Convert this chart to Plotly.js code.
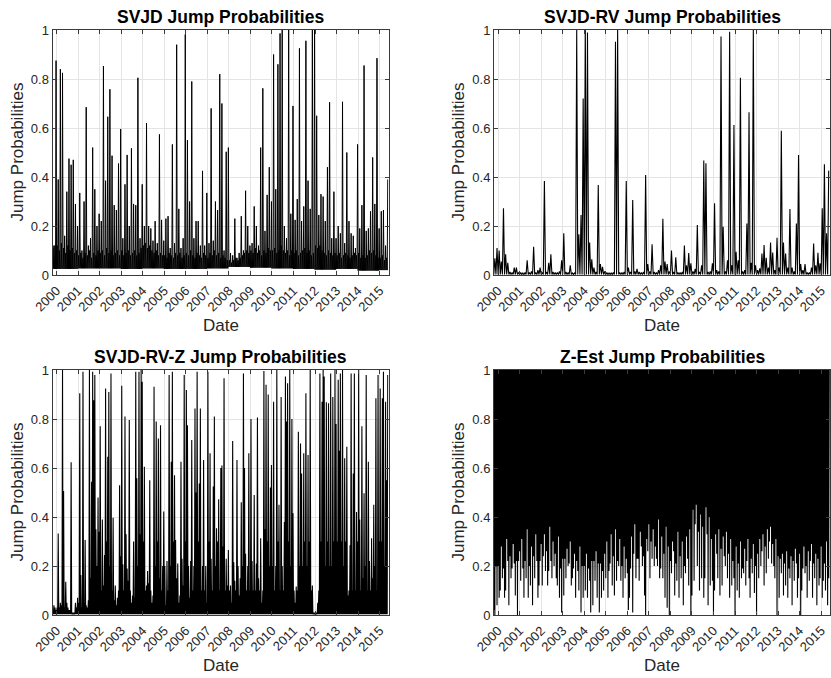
<!DOCTYPE html>
<html>
<head>
<meta charset="utf-8">
<script src="https://cdn.plot.ly/plotly-3.0.1.min.js"></script>
<style>
html, body { margin: 0; padding: 0; background: #ffffff; }
#chart { width: 831px; height: 678px; }
</style>
</head>
<body>
<div id="chart"></div>
<script>
// ---------------- DATA ----------------
// Rows are calendar years; the first row starts at 1999.8 (start of sample).
const years = [1999, 2000, 2001, 2002, 2003, 2004, 2005, 2006, 2007, 2008, 2009, 2010, 2011, 2012, 2013, 2014, 2015];
const sampleStart = 1999.8;
const tickYears = [2000, 2001, 2002, 2003, 2004, 2005, 2006, 2007, 2008, 2009, 2010, 2011, 2012, 2013, 2014, 2015];
const tickLabels = ['2000', '2001', '2002', '2003', '2004', '2005', '2006', '2007', '2008', '2009', '2010', '2011', '2012', '2013', '2014', '2015'];
const probTicks = [0, 0.2, 0.4, 0.6, 0.8, 1];
const probLabels = ['0', '0.2', '0.4', '0.6', '0.8', '1'];
const panelTitles = ['SVJD Jump Probabilities', 'SVJD-RV Jump Probabilities', 'SVJD-RV-Z Jump Probabilities', 'Z-Est Jump Probabilities'];
const xLabel = 'Date';
const yLabel = 'Jump Probabilities';

// SVJD: peak jump probability in each 0.1-year window
const svjdPeaks = [
  [0.12, 0.875],
  [0.39, 0.84, 0.825, 0.16, 0.34, 0.475, 0.45, 0.47, 0.29, 0.2],
  [0.335, 0.1, 0.30, 0.685, 0.12, 0.15, 0.52, 0.35, 0.2, 0.25],
  [0.22, 0.853, 0.385, 0.646, 0.758, 0.487, 0.285, 0.265, 0.455, 0.596],
  [0.15, 0.37, 0.49, 0.2, 0.517, 0.29, 0.285, 0.805, 0.15, 0.37],
  [0.2, 0.62, 0.2, 0.19, 0.14, 0.22, 0.13, 0.574, 0.225, 0.14],
  [0.23, 0.24, 0.11, 0.533, 0.13, 0.94, 0.27, 0.11, 0.15, 0.982],
  [0.55, 0.30, 0.79, 0.15, 0.22, 0.22, 0.12, 0.425, 0.12, 0.335],
  [0.13, 0.68, 0.14, 0.30, 0.265, 0.82, 0.70, 0.1, 0.503, 0.52],
  [0.09, 0.08, 0.23, 0.07, 0.09, 0.24, 0.1, 0.344, 0.2, 0.12],
  [0.13, 0.28, 0.2, 0.12, 0.52, 0.762, 0.18, 0.327, 0.44, 0.3],
  [0.90, 0.35, 0.86, 0.986, 1.0, 0.2, 0.15, 1.0, 0.25, 0.69],
  [0.225, 0.31, 0.925, 0.22, 0.28, 0.956, 0.385, 0.27, 1.0, 1.0],
  [0.65, 0.245, 0.33, 0.32, 0.22, 0.44, 0.705, 0.15, 0.34, 0.15],
  [0.2, 0.17, 0.707, 0.13, 0.50, 0.22, 0.17, 0.16, 0.11, 0.533],
  [0.19, 0.285, 0.855, 0.18, 0.19, 0.26, 0.48, 0.29, 0.885, 0.19],
  [0.26, 0.265, 0.12, 0.39]
];
// SVJD: typical (dense) daily level in each 0.1-year window
const svjdTypical = [
  [0.11, 0.12],
  [0.12, 0.1, 0.13, 0.11, 0.09, 0.12, 0.1, 0.11, 0.09, 0.1],
  [0.08, 0.09, 0.07, 0.09, 0.08, 0.1, 0.07, 0.09, 0.08, 0.1],
  [0.09, 0.1, 0.08, 0.11, 0.09, 0.1, 0.08, 0.09, 0.1, 0.08],
  [0.1, 0.08, 0.09, 0.1, 0.08, 0.09, 0.1, 0.08, 0.09, 0.11],
  [0.12, 0.13, 0.11, 0.12, 0.1, 0.09, 0.1, 0.08, 0.09, 0.08],
  [0.08, 0.07, 0.09, 0.08, 0.07, 0.09, 0.08, 0.09, 0.07, 0.08],
  [0.09, 0.08, 0.1, 0.08, 0.07, 0.09, 0.08, 0.07, 0.09, 0.08],
  [0.07, 0.09, 0.08, 0.1, 0.08, 0.09, 0.07, 0.08, 0.07, 0.06],
  [0.06, 0.05, 0.06, 0.07, 0.06, 0.07, 0.08, 0.09, 0.1, 0.09],
  [0.1, 0.09, 0.11, 0.09, 0.1, 0.08, 0.1, 0.09, 0.11, 0.1],
  [0.1, 0.11, 0.09, 0.1, 0.12, 0.1, 0.09, 0.1, 0.08, 0.1],
  [0.09, 0.1, 0.08, 0.09, 0.1, 0.11, 0.09, 0.1, 0.08, 0.09],
  [0.12, 0.11, 0.12, 0.1, 0.09, 0.08, 0.1, 0.09, 0.08, 0.09],
  [0.08, 0.09, 0.07, 0.08, 0.09, 0.08, 0.07, 0.08, 0.09, 0.08],
  [0.09, 0.07, 0.08, 0.07, 0.08, 0.1, 0.09, 0.1, 0.08, 0.07],
  [0.07, 0.08, 0.06, 0.07]
];
// SVJD: lower envelope per year
const svjdFloor = [0.025, 0.025, 0.027, 0.027, 0.025, 0.027, 0.025, 0.025, 0.027, 0.033, 0.03, 0.027, 0.025, 0.022, 0.025, 0.018, 0.02];

// SVJD-RV: peak jump probability in each 0.1-year window
const rvPeaks = [
  [0.068, 0.11],
  [0.10, 0.055, 0.272, 0.085, 0.05, 0.012, 0.01, 0.03, 0.03, 0.01],
  [0.01, 0.008, 0.01, 0.06, 0.01, 0.015, 0.115, 0.01, 0.02, 0.03],
  [0.01, 0.384, 0.012, 0.05, 0.085, 0.012, 0.01, 0.01, 0.015, 0.06],
  [0.17, 0.012, 0.01, 0.04, 0.008, 0.008, 1.0, 0.166, 0.245, 0.72],
  [1.0, 0.99, 0.133, 0.064, 0.03, 0.012, 0.367, 0.045, 0.033, 0.015],
  [0.01, 0.008, 0.008, 0.01, 0.952, 1.0, 0.01, 0.01, 0.012, 0.384],
  [0.03, 0.012, 0.306, 0.015, 0.025, 0.012, 0.01, 0.012, 0.408, 0.045],
  [0.015, 0.125, 0.012, 0.01, 0.02, 0.04, 0.23, 0.055, 0.045, 0.015],
  [0.1, 0.012, 0.072, 0.01, 0.01, 0.012, 0.12, 0.04, 0.09, 0.048],
  [0.015, 0.025, 0.204, 0.012, 0.04, 0.467, 0.456, 0.012, 0.015, 0.048],
  [0.293, 0.02, 0.015, 0.973, 0.197, 0.015, 0.06, 0.993, 0.04, 0.612],
  [0.095, 0.06, 0.805, 0.015, 0.02, 0.21, 0.664, 0.05, 1.0, 0.04],
  [0.02, 0.027, 0.088, 0.122, 0.07, 0.03, 0.133, 0.092, 0.02, 0.152],
  [0.03, 0.589, 0.133, 0.088, 0.03, 0.269, 0.03, 0.015, 0.21, 0.49],
  [0.045, 0.02, 0.045, 0.01, 0.01, 0.03, 0.129, 0.04, 0.091, 0.048],
  [0.272, 0.452, 0.17, 0.426]
];
const rvFloor = [0.002, 0.002, 0.002, 0.002, 0.002, 0.002, 0.002, 0.002, 0.002, 0.002, 0.002, 0.002, 0.002, 0.002, 0.002, 0.002, 0.002];

// SVJD-RV-Z: peak jump probability in each 0.05-year window
const rvzPeaks = [
  [0.02, 0.04, 0.03, 0.02],
  [0.03, 0.333, 0.03, 0.05, 0.04, 1.0, 0.506, 0.03, 0.136, 0.05, 0.03, 0.02, 0.02, 0.623, 0.01, 0.01, 0.01, 0.05, 0.03, 0.07],
  [0.05, 0.905, 0.163, 0.03, 0.993, 0.05, 0.306, 0.04, 0.03, 0.06, 1.0, 0.15, 0.544, 0.993, 0.877, 0.98, 0.35, 0.2, 0.48, 0.34],
  [0.77, 0.1, 0.39, 0.12, 0.245, 0.925, 0.3, 0.646, 0.91, 0.2, 0.986, 0.1, 0.397, 0.06, 0.12, 0.04, 0.07, 0.1, 0.53, 0.24],
  [0.936, 0.207, 0.1, 0.81, 0.33, 0.19, 0.14, 0.796, 0.1, 0.05, 0.08, 0.30, 0.07, 0.993, 0.558, 0.2, 0.993, 0.33, 1.0, 0.952],
  [0.3, 0.605, 0.1, 0.12, 0.18, 0.13, 0.55, 0.1, 0.05, 0.08, 0.932, 0.2, 0.79, 0.3, 0.72, 0.15, 0.775, 0.1, 0.2, 0.422],
  [0.2, 0.04, 0.22, 0.1, 0.98, 0.2, 0.626, 0.993, 0.3, 0.57, 0.306, 0.15, 0.21, 0.05, 0.08, 0.626, 0.23, 0.12, 0.98, 0.3],
  [0.918, 0.775, 0.2, 0.07, 0.22, 0.714, 0.1, 0.2, 0.843, 0.5, 0.993, 0.3, 0.537, 0.843, 0.1, 0.2, 0.633, 0.1, 0.2, 0.05],
  [0.993, 0.3, 0.66, 0.23, 0.1, 0.524, 0.81, 0.2, 0.354, 0.3, 0.472, 0.1, 0.6, 0.61, 0.28, 0.966, 0.1, 0.23, 0.12, 0.265],
  [0.1, 0.12, 0.05, 0.71, 0.215, 0.14, 0.1, 0.633, 0.2, 0.08, 0.15, 0.46, 0.2, 0.986, 0.6, 0.25, 0.1, 0.2, 0.66, 0.1],
  [0.8, 0.22, 0.1, 0.49, 0.1, 0.21, 0.806, 0.15, 0.1, 0.313, 0.05, 0.1, 0.996, 0.35, 0.94, 0.3, 0.9, 0.2, 0.52, 0.612],
  [0.2, 0.87, 0.1, 0.2, 1.0, 0.3, 0.45, 0.1, 0.89, 0.2, 0.1, 0.38, 0.973, 0.79, 0.946, 0.3, 1.0, 0.2, 0.8, 0.415],
  [0.1, 0.05, 0.116, 0.1, 0.748, 0.2, 0.70, 0.578, 0.2, 0.66, 0.3, 0.905, 0.2, 0.653, 0.3, 1.0, 0.1, 0.12, 0.01, 0.01],
  [0.01, 0.01, 0.05, 0.1, 0.986, 0.3, 0.87, 1.0, 0.973, 0.2, 0.868, 0.3, 0.864, 0.2, 0.986, 0.2, 0.89, 0.3, 1.0, 0.78],
  [0.3, 0.96, 0.67, 0.986, 0.3, 1.0, 0.2, 0.64, 0.3, 0.687, 0.08, 0.1, 0.285, 0.986, 0.1, 0.578, 0.986, 0.1, 0.42, 0.3],
  [1.0, 0.39, 0.1, 0.77, 0.15, 0.497, 0.2, 0.98, 0.1, 0.626, 0.22, 0.1, 0.313, 0.15, 0.45, 0.2, 0.885, 0.1, 0.98, 0.3],
  [0.925, 0.3, 0.885, 0.993, 0.2, 0.87, 0.55, 0.98]
];
const rvzFloor = [0.003, 0.003, 0.003, 0.003, 0.003, 0.003, 0.003, 0.003, 0.003, 0.003, 0.003, 0.003, 0.003, 0.003, 0.003, 0.003, 0.003];

// Z-Est: lowest jump probability in each 0.05-year window
const zestTroughs = [
  [0.02, 0.0, 0.2, 0.04],
  [0.2, 0.07, 0.1, 0.28, 0.15, 0.19, 0.07, 0.1, 0.31, 0.22, 0.04, 0.24, 0.15, 0.19, 0.29, 0.21, 0.08, 0.22, 0.0, 0.22],
  [0.26, 0.14, 0.31, 0.19, 0.07, 0.22, 0.15, 0.35, 0.07, 0.2, 0.12, 0.28, 0.04, 0.24, 0.15, 0.33, 0.22, 0.07, 0.12, 0.22],
  [0.29, 0.12, 0.24, 0.33, 0.18, 0.26, 0.12, 0.18, 0.36, 0.22, 0.15, 0.3, 0.2, 0.25, 0.15, 0.12, 0.32, 0.07, 0.19, 0.01],
  [0.23, 0.08, 0.23, 0.15, 0.27, 0.2, 0.21, 0.3, 0.12, 0.15, 0.19, 0.25, 0.07, 0.22, 0.18, 0.1, 0.28, 0.01, 0.2, 0.07],
  [0.2, 0.1, 0.25, 0.07, 0.19, 0.14, 0.01, 0.22, 0.04, 0.22, 0.14, 0.26, 0.07, 0.21, 0.01, 0.21, 0.07, 0.18, 0.1, 0.25],
  [0.15, 0.3, 0.07, 0.18, 0.21, 0.33, 0.12, 0.24, 0.08, 0.35, 0.14, 0.22, 0.2, 0.31, 0.14, 0.2, 0.07, 0.28, 0.15, 0.23],
  [0.17, 0.02, 0.07, 0.19, 0.32, 0.01, 0.25, 0.37, 0.15, 0.23, 0.23, 0.14, 0.34, 0.28, 0.2, 0.24, 0.08, 0.0, 0.31, 0.26],
  [0.37, 0.15, 0.3, 0.23, 0.35, 0.2, 0.28, 0.23, 0.2, 0.39, 0.15, 0.19, 0.32, 0.15, 0.25, 0.07, 0.36, 0.03, 0.28, 0.0],
  [0.22, 0.17, 0.3, 0.26, 0.08, 0.21, 0.14, 0.34, 0.07, 0.24, 0.15, 0.3, 0.04, 0.2, 0.17, 0.32, 0.23, 0.12, 0.35, 0.0],
  [0.08, 0.43, 0.14, 0.37, 0.45, 0.2, 0.34, 0.1, 0.41, 0.15, 0.36, 0.07, 0.15, 0.44, 0.33, 0.04, 0.4, 0.12, 0.31, 0.14],
  [0.0, 0.1, 0.33, 0.25, 0.15, 0.35, 0.08, 0.27, 0.12, 0.32, 0.24, 0.2, 0.34, 0.15, 0.25, 0.07, 0.31, 0.12, 0.22, 0.15],
  [0.0, 0.28, 0.1, 0.21, 0.07, 0.3, 0.15, 0.19, 0.17, 0.27, 0.12, 0.22, 0.31, 0.15, 0.07, 0.23, 0.17, 0.29, 0.09, 0.2],
  [0.0, 0.25, 0.15, 0.31, 0.2, 0.26, 0.33, 0.12, 0.28, 0.17, 0.35, 0.23, 0.3, 0.36, 0.21, 0.29, 0.2, 0.15, 0.31, 0.0],
  [0.24, 0.07, 0.23, 0.17, 0.25, 0.08, 0.21, 0.12, 0.26, 0.07, 0.19, 0.15, 0.24, 0.04, 0.22, 0.14, 0.27, 0.21, 0.07, 0.15],
  [0.25, 0.0, 0.1, 0.19, 0.28, 0.17, 0.2, 0.07, 0.26, 0.14, 0.22, 0.29, 0.07, 0.21, 0.15, 0.25, 0.04, 0.23, 0.12, 0.15],
  [0.28, 0.07, 0.14, 0.21, 0.1, 0.3, 0.04, 0.15]
];
// Z-Est: upper envelope per year
const zestCeil = [1, 1, 1, 1, 1, 1, 1, 1, 1, 1, 1, 1, 1, 1, 1, 1, 1];

// ---------------- BUILD ----------------
// Each window contributes its values at evenly spaced instants inside the window.
function windows(rows, step, valuesOf) {
  const x = [], y = [];
  rows.forEach((row, r) => {
    const start = r === 0 ? sampleStart : years[r];
    row.forEach((v, k) => {
      const x0 = start + step * k;
      const vals = valuesOf(r, k, v);
      vals.forEach((val, j) => { x.push(x0 + step * j / vals.length); y.push(val); });
    });
  });
  return { x, y };
}

const s1 = windows(svjdPeaks, 0.1, (r, k, v) => [svjdFloor[r], svjdTypical[r][k], svjdFloor[r], v]);
const s2 = windows(rvPeaks, 0.1, (r, k, v) => [rvFloor[r], v]);
const s3 = windows(rvzPeaks, 0.05, (r, k, v) => [rvzFloor[r], v]);
const s4 = windows(zestTroughs, 0.05, (r, k, v) => [v, zestCeil[r]]);

function lineTrace(s, xa, ya, w) {
  return {
    type: 'scatter', mode: 'lines', x: s.x, y: s.y, xaxis: xa, yaxis: ya,
    line: { color: '#000000', width: w, simplify: false },
    hoverinfo: 'skip', showlegend: false
  };
}

const traces = [
  lineTrace(s1, 'x', 'y', 1),
  lineTrace(s2, 'x2', 'y2', 1.1),
  lineTrace(s3, 'x3', 'y3', 1.1),
  lineTrace(s4, 'x4', 'y4', 1.1)
];

const W = 831, H = 678;
const leftDom = [52.5 / W, 388.5 / W];
const rightDom = [494 / W, 830 / W];
const topDom = [(H - 275) / H, (H - 30) / H];
const botDom = [(H - 615) / H, (H - 370) / H];

const tickFont = { family: 'Liberation Sans, Arial, Helvetica, sans-serif', size: 13, color: '#262626' };
const common = {
  showgrid: true, gridcolor: '#e4e4e4', gridwidth: 1,
  showline: true, linecolor: '#3a3a3a', linewidth: 1, mirror: 'ticks',
  ticks: 'inside', ticklen: 4, tickwidth: 1, tickcolor: '#3a3a3a',
  tickfont: tickFont, zeroline: false, fixedrange: true
};
function xax(domain, anchor) {
  return Object.assign({}, common, {
    domain: domain, anchor: anchor, range: [1999.81, 2015.41],
    tickmode: 'array', tickvals: tickYears, ticktext: tickLabels, tickangle: -45,
    ticklabelstandoff: 2
  });
}
function yax(domain, anchor) {
  return Object.assign({}, common, {
    domain: domain, anchor: anchor, range: [0, 1],
    tickmode: 'array', tickvals: probTicks, ticktext: probLabels
  });
}

const titleFont = { family: 'Liberation Sans, Arial, Helvetica, sans-serif', size: 17.5, color: '#000000' };
const labelFont = { family: 'Liberation Sans, Arial, Helvetica, sans-serif', size: 17, color: '#262626' };
function ann(text, xpx, ypx, font, angle) {
  return {
    text: text, xref: 'paper', yref: 'paper', x: xpx / W, y: 1 - ypx / H,
    xanchor: 'center', yanchor: 'middle', showarrow: false, font: font, textangle: angle || 0
  };
}
const panels = [
  { cx: 220.5, top: 30, bottom: 275, ylabX: 17 },
  { cx: 662, top: 30, bottom: 275, ylabX: 458 },
  { cx: 220.5, top: 370, bottom: 615, ylabX: 17 },
  { cx: 662, top: 370, bottom: 615, ylabX: 458 }
];
const annotations = [];
panels.forEach((p, i) => {
  annotations.push(ann('<b>' + panelTitles[i] + '</b>', p.cx, p.top - 13, titleFont));
  annotations.push(ann(xLabel, p.cx, p.bottom + 50, labelFont));
  annotations.push(ann(yLabel, p.ylabX, (p.top + p.bottom) / 2, labelFont, -90));
});

const layout = {
  width: W, height: H,
  margin: { l: 0, r: 0, t: 0, b: 0 },
  paper_bgcolor: '#ffffff', plot_bgcolor: '#ffffff',
  showlegend: false,
  xaxis: xax(leftDom, 'y'), yaxis: yax(topDom, 'x'),
  xaxis2: xax(rightDom, 'y2'), yaxis2: yax(topDom, 'x2'),
  xaxis3: xax(leftDom, 'y3'), yaxis3: yax(botDom, 'x3'),
  xaxis4: xax(rightDom, 'y4'), yaxis4: yax(botDom, 'x4'),
  annotations: annotations
};

Plotly.newPlot('chart', traces, layout, { staticPlot: true, displayModeBar: false });
</script>
</body>
</html>
